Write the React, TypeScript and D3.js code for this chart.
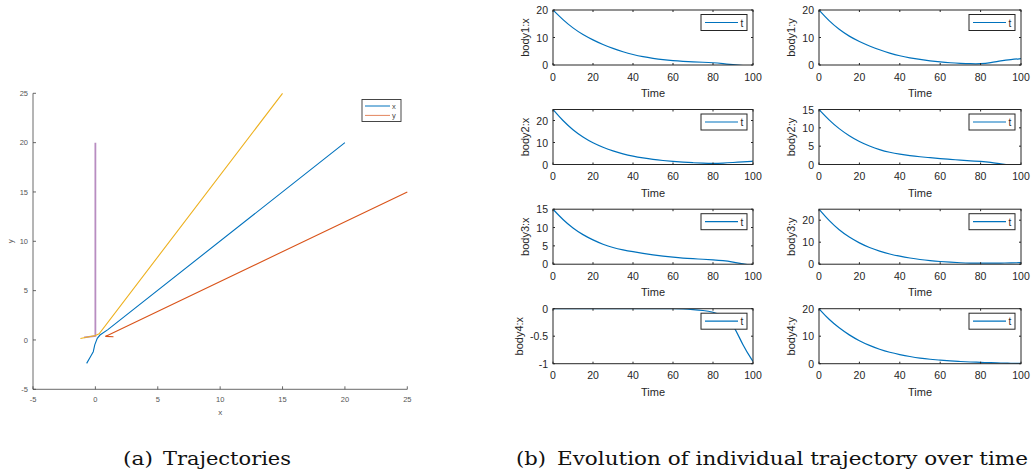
import React from "react";
import * as d3 from "d3";

// ---------- Left chart: trajectories ----------
const trajXTicks = [-5, 0, 5, 10, 15, 20, 25];
const trajYTicks = [-5, 0, 5, 10, 15, 20, 25];
const blueTraj: [number, number][] = [[-0.7, -2.37], [-0.35, -1.6], [-0.17, -1.19], [-0.05, -0.5], [0.15, 0.17], [0.37, 0.5], [1, 1.05], [20, 20]];
const orangeTraj: [number, number][] = [[25, 15], [0.8, 0.36], [1.45, 0.32]];
const yellowTraj: [number, number][] = [[-1.2, 0.15], [-0.6, 0.3], [0, 0.45], [0.3, 0.62], [15, 25]];
const purpleTraj: [number, number][] = [[0, 20], [0, 0.4], [-0.9, 0.27]];
const trajLegend = ["x", "y"];

// ---------- Right panels: time series ----------
const timeSteps = [0, 5, 10, 15, 20, 25, 30, 35, 40, 45, 50, 55, 60, 65, 70, 75, 80, 85, 90, 95, 100];
const body1x = [20, 16.4, 13.4, 11.0, 9.1, 7.4, 6.0, 4.8, 3.8, 3.0, 2.4, 1.9, 1.55, 1.3, 1.1, 1.0, 0.85, 0.5, 0.1, -0.2, -0.4];
const body1y = [20, 16, 12.9, 10.4, 8.5, 6.9, 5.5, 4.3, 3.3, 2.6, 2.0, 1.5, 1.1, 0.8, 0.6, 0.45, 0.4, 0.8, 1.5, 2.0, 2.3];
const body2x = [25, 19.8, 15.7, 12.4, 9.8, 7.8, 6.1, 4.8, 3.8, 3.0, 2.3, 1.8, 1.4, 1.05, 0.8, 0.6, 0.5, 0.6, 0.9, 1.2, 1.5];
const body2y = [15, 12.1, 9.7, 7.8, 6.2, 5.0, 4.0, 3.3, 2.8, 2.4, 2.1, 1.85, 1.6, 1.4, 1.2, 1.0, 0.85, 0.6, 0.15, -0.2, -0.4];
const body3x = [15, 12.1, 9.8, 8.0, 6.6, 5.4, 4.5, 3.9, 3.4, 2.95, 2.55, 2.2, 1.9, 1.65, 1.5, 1.35, 1.2, 1.0, 0.6, 0.1, -0.4];
const body3y = [25, 19.7, 15.5, 12.2, 9.6, 7.5, 5.9, 4.6, 3.6, 2.8, 2.1, 1.6, 1.2, 0.9, 0.65, 0.5, 0.45, 0.45, 0.5, 0.6, 0.7];
const body4x = [0, 0, 0, 0, 0, 0, 0, 0, 0, 0, 0, 0, 0, -0.005, -0.015, -0.03, -0.06, -0.12, -0.26, -0.68, -0.96];
const body4y = [20, 16, 13, 10.4, 8.3, 6.6, 5.2, 4.1, 3.3, 2.6, 2.0, 1.6, 1.3, 1.0, 0.8, 0.6, 0.5, 0.35, 0.25, 0.15, 0.1];
const timeTicks = [0, 20, 40, 60, 80, 100];
const panelLabels = ["body1:x", "body1:y", "body2:x", "body2:y", "body3:x", "body3:y", "body4:x", "body4:y"];
const panelSeries = [body1x, body1y, body2x, body2y, body3x, body3y, body4x, body4y];
const panelYDomains: [number, number][] = [[0, 20], [0, 20], [0, 25], [0, 15], [0, 15], [0, 25], [-1, 0], [0, 20]];
const panelYTicks = [[0, 10, 20], [0, 10, 20], [0, 10, 20], [0, 5, 10, 15], [0, 5, 10, 15], [0, 10, 20], [-1, -0.5, 0], [0, 10, 20]];
const seriesLegend = "t";

const captionA = ["(a)", "Trajectories"];
const captionB = ["(b)", "Evolution of individual trajectory over time"];

const SANS = "'Liberation Sans', Arial, Helvetica, sans-serif";
const SERIF = "'DejaVu Serif', 'Liberation Serif', serif";
const AX = "#262626";
const C_BLUE = "#0072BD";
const C_ORANGE = "#D95319";
const C_YELLOW = "#EDB120";
const C_PURPLE = "#7E2F8E";

function TrajectoryChart() {
  const x = d3.scaleLinear().domain([-5, 25]).range([33, 407.3]);
  const y = d3.scaleLinear().domain([-5, 25]).range([389.3, 93.3]);
  const line = d3.line<[number, number]>().x(d => x(d[0])).y(d => y(d[1]));
  const [x0, x1] = x.range();
  const [y0, y1] = y.range();
  return (
    <g fontFamily={SANS}>
      <line x1={x0} x2={x1} y1={y0} y2={y0} stroke="#444" strokeWidth={0.8} />
      <line x1={x0} x2={x0} y1={y0} y2={y1} stroke="#444" strokeWidth={0.8} />
      {trajXTicks.map(t => (
        <g key={"xt" + t}>
          <line x1={x(t)} x2={x(t)} y1={y0} y2={y0 - 3} stroke="#444" strokeWidth={0.8} />
          <text x={x(t)} y={y0 + 13} fontSize={7.5} fill="#555" textAnchor="middle">{t}</text>
        </g>
      ))}
      {trajYTicks.map(t => (
        <g key={"yt" + t}>
          <line x1={x0} x2={x0 + 3} y1={y(t)} y2={y(t)} stroke="#444" strokeWidth={0.8} />
          <text x={x0 - 5} y={y(t) + 2.7} fontSize={7.5} fill="#555" textAnchor="end">{t}</text>
        </g>
      ))}
      <text x={(x0 + x1) / 2} y={415} fontSize={8} fill="#555" textAnchor="middle">x</text>
      <text transform={`translate(13,${(y0 + y1) / 2}) rotate(-90)`} fontSize={8} fill="#555" textAnchor="middle">y</text>
      <path d={line(purpleTraj) || ""} fill="none" stroke={C_PURPLE} strokeOpacity={0.55} strokeWidth={1.8} />
      <path d={line(yellowTraj) || ""} fill="none" stroke={C_YELLOW} strokeWidth={1.1} />
      <path d={line(blueTraj) || ""} fill="none" stroke={C_BLUE} strokeWidth={1.1} />
      <path d={line(orangeTraj) || ""} fill="none" stroke={C_ORANGE} strokeWidth={1.1} />
      <rect x={362} y={99.5} width={39} height={22} fill="#fff" stroke="#333" strokeWidth={0.9} />
      {trajLegend.map((s, i) => (
        <g key={s}>
          <line x1={365} x2={390} y1={106 + i * 9.4} y2={106 + i * 9.4} stroke={i === 0 ? C_BLUE : C_ORANGE} strokeOpacity={i === 0 ? 1 : 0.7} strokeWidth={1} />
          <text x={392} y={108.6 + i * 9.4} fontSize={7.5} fill="#444">{s}</text>
        </g>
      ))}
    </g>
  );
}

function Panel({ idx }: { idx: number }) {
  const col = idx % 2;
  const row = Math.floor(idx / 2);
  const left = col === 0 ? 553 : 819;
  const right = col === 0 ? 753 : 1021;
  const tops = [10, 109.5, 209.2, 308.7];
  const top = tops[row];
  const bottom = top + 55;
  const x = d3.scaleLinear().domain([0, 100]).range([left, right]);
  const y = d3.scaleLinear().domain(panelYDomains[idx]).range([bottom, top]);
  const vals = panelSeries[idx];
  const data = timeSteps.map((t, i) => [t, vals[i]] as [number, number]);
  const line = d3.line<[number, number]>().x(d => x(d[0])).y(d => y(d[1])).curve(d3.curveBasis);
  const clipId = "clip" + idx;
  const lx = right - 52;
  const ly = top + 4.5;
  return (
    <g fontFamily={SANS}>
      <defs>
        <clipPath id={clipId}>
          <rect x={left} y={top} width={right - left} height={bottom - top} />
        </clipPath>
      </defs>
      <rect x={left} y={top} width={right - left} height={bottom - top} fill="#fff" />
      <path d={line(data) || ""} fill="none" stroke={C_BLUE} strokeWidth={1.2} clipPath={`url(#${clipId})`} />
      <rect x={left} y={top} width={right - left} height={bottom - top} fill="none" stroke={AX} strokeWidth={1} />
      {timeTicks.map(t => (
        <g key={"x" + t}>
          <line x1={x(t)} x2={x(t)} y1={bottom} y2={bottom - 2} stroke={AX} />
          <line x1={x(t)} x2={x(t)} y1={top} y2={top + 2} stroke={AX} />
          <text x={x(t)} y={bottom + 15.5} fontSize={10.5} fill={AX} textAnchor="middle">{t}</text>
        </g>
      ))}
      {panelYTicks[idx].map(t => (
        <g key={"y" + t}>
          <line x1={left} x2={left + 2} y1={y(t)} y2={y(t)} stroke={AX} />
          <line x1={right} x2={right - 2} y1={y(t)} y2={y(t)} stroke={AX} />
          <text x={left - 5} y={y(t) + 4} fontSize={10.5} fill={AX} textAnchor="end">{t}</text>
        </g>
      ))}
      <text x={(left + right) / 2} y={bottom + 32} fontSize={11} fill={AX} textAnchor="middle">Time</text>
      <text transform={`translate(${idx === 6 ? left - 30 : left - 24},${(top + bottom) / 2}) rotate(-90)`} fontSize={11} fill={AX} textAnchor="middle">{panelLabels[idx]}</text>
      <rect x={lx} y={ly} width={46} height={16} fill="#fff" stroke={AX} strokeWidth={1} />
      <line x1={lx + 4} x2={lx + 37} y1={ly + 8} y2={ly + 8} stroke={C_BLUE} strokeWidth={1.2} />
      <text x={lx + 39.5} y={ly + 12} fontSize={10} fill={AX}>{seriesLegend}</text>
    </g>
  );
}

export default function App() {
  return (
    <svg width={1032} height={475} style={{ position: "absolute", left: 0, top: 0, background: "#fff" }}>
      <rect width={1032} height={475} fill="#fff" />
      <TrajectoryChart />
      {panelLabels.map((_, i) => <Panel key={i} idx={i} />)}
      <g fontFamily={SERIF} fill="#111" fontSize={18}>
        <text x={123} y={465} textLength={30} lengthAdjust="spacingAndGlyphs">{captionA[0]}</text>
        <text x={163} y={465} textLength={128} lengthAdjust="spacingAndGlyphs">{captionA[1]}</text>
        <text x={516} y={465} textLength={30} lengthAdjust="spacingAndGlyphs">{captionB[0]}</text>
        <text x={557} y={465} textLength={471} lengthAdjust="spacingAndGlyphs">{captionB[1]}</text>
      </g>
    </svg>
  );
}
